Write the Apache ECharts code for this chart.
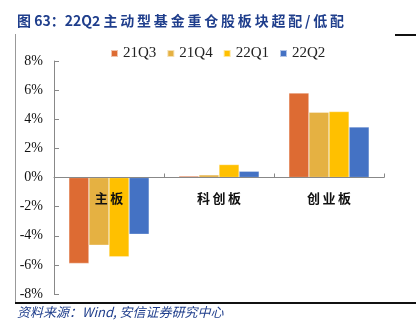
<!DOCTYPE html>
<html>
<head>
<meta charset="utf-8">
<style>
  html, body { margin: 0; padding: 0; background: #fff; }
  #chart { width: 416px; height: 326px; }
</style>
<script src="https://cdn.jsdelivr.net/npm/echarts@6/dist/echarts.min.js"></script>
</head>
<body>
<div id="chart"></div>
<script>
// Board categories and over/under-weight (%) per quarter
const categories = ['主板', '科创板', '创业板'];
const seriesNames = ['21Q3', '21Q4', '22Q1', '22Q2'];
const q21Q3 = [-5.9, 0.1, 5.8];
const q21Q4 = [-4.65, 0.18, 4.48];
const q22Q1 = [-5.45, 0.89, 4.53];
const q22Q2 = [-3.9, 0.43, 3.47];
const yTicks = { min: -8, max: 8, step: 2 };

const colors = ['#DD6B33', '#E5B142', '#FFC000', '#4472C4'];
const values = [q21Q3, q21Q4, q22Q1, q22Q2];

const serif = '"Liberation Serif", "Times New Roman", serif';
const cjk = '"Noto Sans CJK SC", sans-serif';

const gridTop = 61, gridBottom = 32, chartH = 326;
// distance from the plot's bottom edge up to the zero line
const plotH = chartH - gridTop - gridBottom;
const zeroOffset = plotH * (0 - yTicks.min) / (yTicks.max - yTicks.min);

// thin spaces between characters to widen the tracking
const track = s => Array.from(s).join('\u2009');

const chart = echarts.init(document.getElementById('chart'), null, { renderer: 'canvas' });

chart.setOption({
  animation: false,
  backgroundColor: '#fff',
  color: colors,
  grid: { left: 54, right: 32, top: gridTop, bottom: gridBottom },
  legend: {
    data: seriesNames,
    left: 105,
    top: 41,
    itemWidth: 7,
    itemHeight: 7,
    itemGap: 10,
    icon: 'rect',
    textStyle: { fontFamily: serif, fontSize: 15, color: '#222' }
  },
  xAxis: {
    type: 'category',
    data: categories,
    position: 'bottom',
    offset: -zeroOffset,
    z: 10,
    axisLine: { onZero: false, lineStyle: { color: '#888', width: 1 } },
    axisTick: { show: true, inside: true, length: 4, lineStyle: { color: '#888' } },
    axisLabel: {
      margin: 14,
      fontFamily: cjk,
      fontWeight: 'bold',
      fontSize: 13,
      color: '#111',
      formatter: v => track(v)
    }
  },
  yAxis: {
    type: 'value',
    min: yTicks.min,
    max: yTicks.max,
    interval: yTicks.step,
    splitLine: { show: false },
    axisLine: { show: true, lineStyle: { color: '#888', width: 1 } },
    axisTick: { show: true, inside: true, length: 5, lineStyle: { color: '#888' } },
    axisLabel: {
      margin: 11,
      fontFamily: serif,
      fontSize: 14,
      color: '#111',
      formatter: v => v + '%'
    }
  },
  series: seriesNames.map((name, i) => ({
    name: name,
    type: 'bar',
    data: values[i],
    barGap: '0%',
    barCategoryGap: '27%',
    itemStyle: { color: colors[i], borderColor: 'rgba(255,255,255,0.6)', borderWidth: 0.5 }
  })),
  graphic: [
    {
      type: 'text', left: 17, top: 14,
      style: {
        text: '图 63：22Q2 ' + track('主动型基金重仓股板块超配/低配'),
        font: 'bold 14px "Noto Sans CJK SC", sans-serif',
        fill: '#1F3E8C'
      }
    },
    {
      type: 'line',
      shape: { x1: 15.5, y1: 34, x2: 15.5, y2: 302 },
      style: { stroke: '#999', lineWidth: 1 }
    },
    {
      type: 'line',
      shape: { x1: 395, y1: 35, x2: 416, y2: 35 },
      style: { stroke: '#111', lineWidth: 2 }
    },
    {
      type: 'line',
      shape: { x1: 15, y1: 303, x2: 416, y2: 303 },
      style: { stroke: '#111', lineWidth: 2 }
    },
    {
      type: 'text', left: 17, top: 306,
      style: {
        text: '资料来源：Wind, 安信证券研究中心',
        font: 'italic 13px "Noto Sans CJK SC", sans-serif',
        fill: '#1F3E8C'
      }
    }
  ]
});
</script>
</body>
</html>
